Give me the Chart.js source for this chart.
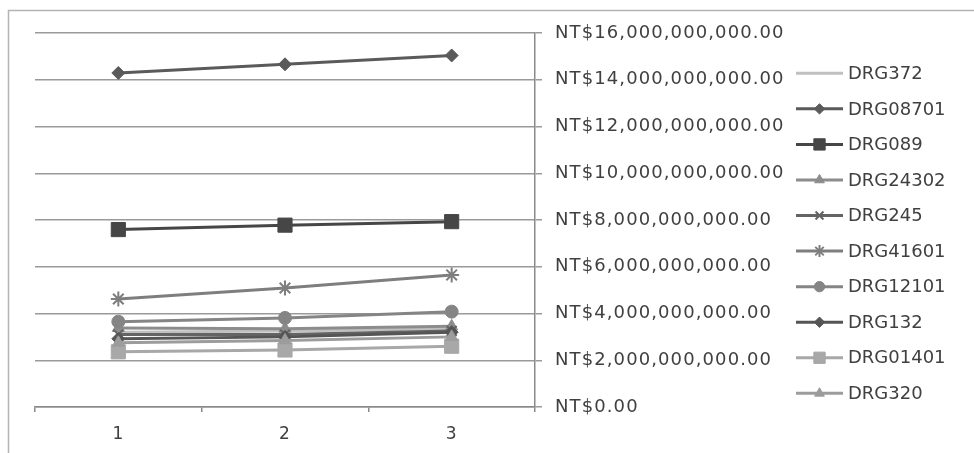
<!DOCTYPE html>
<html>
<head>
<meta charset="utf-8">
<script src="https://cdn.jsdelivr.net/npm/chart.js@4"></script>
<style>
  html, body { margin: 0; padding: 0; background: #fff; }
  #wrap { width: 974px; height: 453px; position: relative; }
</style>
</head>
<body>
<div id="wrap"><canvas id="drgChart"></canvas></div>
<script>
// Categories (x axis)
const periods = ['1', '2', '3'];

// Series names, in legend order
const seriesNames = ['DRG372', 'DRG08701', 'DRG089', 'DRG24302', 'DRG245',
                     'DRG41601', 'DRG12101', 'DRG132', 'DRG01401', 'DRG320'];

// Values (NT$)
const drg372   = [3.20e9, 3.25e9, 3.35e9];
const drg08701 = [14.29e9, 14.66e9, 15.04e9];
const drg089   = [7.59e9, 7.78e9, 7.93e9];
const drg24302 = [3.38e9, 3.35e9, 3.45e9];
const drg245   = [3.10e9, 3.10e9, 3.25e9];
const drg41601 = [4.62e9, 5.09e9, 5.65e9];
const drg12101 = [3.65e9, 3.81e9, 4.08e9];
const drg132   = [2.92e9, 3.00e9, 3.20e9];
const drg01401 = [2.36e9, 2.44e9, 2.60e9];
const drg320   = [2.75e9, 2.85e9, 3.00e9];

// Y axis ticks
const yMin = 0;
const yMax = 16e9;
const yStep = 2e9;

const seriesValues = [drg372, drg08701, drg089, drg24302, drg245,
                      drg41601, drg12101, drg132, drg01401, drg320];

// Grey-scale look of each series: colour, marker
const seriesStyle = [
    { color: '#c0c0c0', marker: false },
    { color: '#5a5a5a', marker: 'rectRot', radius: 6.5 },
    { color: '#464646', marker: 'rect', radius: 10 },
    { color: '#8c8c8c', marker: 'triangle', radius: 7 },
    { color: '#646464', marker: 'crossRot', radius: 7 },
    { color: '#7e7e7e', marker: 'star', radius: 7.5 },
    { color: '#858585', marker: 'circle', radius: 6.5 },
    { color: '#555555', marker: 'rectRot', radius: 6.5 },
    { color: '#a8a8a8', marker: 'rect', radius: 10 },
    { color: '#9c9c9c', marker: 'triangle', radius: 7 }
];

const FONT = 'DejaVu Sans';

const formatNT = (v) => 'NT$' + Number(v).toLocaleString('en-US', {
    minimumFractionDigits: 2, maximumFractionDigits: 2
});

const datasets = seriesNames.map((name, i) => {
    const s = seriesStyle[i];
    return {
        label: name,
        data: seriesValues[i],
        borderColor: s.color,
        backgroundColor: s.color,
        borderWidth: 3,
        pointStyle: s.marker || 'circle',
        pointRadius: s.marker ? s.radius : 0,
        pointBorderWidth: s.marker === 'crossRot' || s.marker === 'star' ? 2 : 1,
        pointBorderColor: s.color,
        pointBackgroundColor: s.color,
        tension: 0,
        fill: false,
        order: seriesNames.length - i   // later series on top, like Excel
    };
});

// Outer frame + wider letter spacing for axis text
const framePlugin = {
    id: 'frame',
    beforeDraw(chart) {
        const ctx = chart.ctx;
        ctx.save();
        ctx.strokeStyle = '#b4b4b4';
        ctx.lineWidth = 1.5;
        ctx.strokeRect(8.5, 10.5, 1000, 500);
        ctx.restore();
        ctx.letterSpacing = '1.1px';
    },
    beforeDatasetsDraw(chart) {
        chart.ctx.letterSpacing = '0px';
    }
};

// Legend with line + marker samples on the right
const sideLegend = {
    id: 'sideLegend',
    afterDraw(chart) {
        const ctx = chart.ctx;
        const x0 = 796, x1 = 843, top = 73.3, gap = 35.56;
        ctx.save();
        ctx.letterSpacing = '0px';
        chart.data.datasets.forEach((ds, i) => {
            const y = top + i * gap;
            ctx.strokeStyle = ds.borderColor;
            ctx.lineWidth = ds.borderWidth;
            ctx.beginPath();
            ctx.moveTo(x0, y);
            ctx.lineTo(x1, y);
            ctx.stroke();
            if (ds.pointRadius > 0) {
                ctx.fillStyle = ds.pointBackgroundColor;
                ctx.strokeStyle = ds.pointBorderColor;
                ctx.lineWidth = ds.pointBorderWidth;
                Chart.helpers.drawPoint(ctx, {
                    pointStyle: ds.pointStyle,
                    radius: ds.pointRadius * 0.8,
                    rotation: 0,
                    borderWidth: ds.pointBorderWidth
                }, (x0 + x1) / 2, y);
            }
            ctx.fillStyle = '#404040';
            ctx.font = '18px "' + FONT + '"';
            ctx.textAlign = 'left';
            ctx.textBaseline = 'middle';
            ctx.fillText(ds.label, 848, y + 1);
        });
        ctx.restore();
    }
};

new Chart(document.getElementById('drgChart'), {
    type: 'line',
    data: { labels: periods, datasets: datasets },
    plugins: [framePlugin, sideLegend],
    options: {
        responsive: true,
        maintainAspectRatio: false,
        animation: false,
        layout: { padding: { left: 35, top: 33, right: 0, bottom: 0 } },
        plugins: {
            legend: { display: false },
            tooltip: { enabled: false }
        },
        scales: {
            x: {
                type: 'category',
                offset: true,
                afterFit: (scale) => { scale.height = 46; },
                grid: {
                    offset: true,
                    drawOnChartArea: false,
                    drawTicks: true,
                    tickLength: 5,
                    color: '#8a8a8a',
                    lineWidth: 1.5
                },
                border: { display: true, color: '#8a8a8a', width: 1.5 },
                ticks: {
                    color: '#404040',
                    padding: 12,
                    font: { family: FONT, size: 17 }
                }
            },
            y: {
                position: 'right',
                min: yMin,
                max: yMax,
                afterFit: (scale) => { scale.width = 974 - 535; },
                grid: {
                    color: '#9a9a9a',
                    lineWidth: 1.5,
                    drawTicks: true,
                    tickLength: 7
                },
                border: { display: true, color: '#8a8a8a', width: 1.5 },
                ticks: {
                    stepSize: yStep,
                    padding: 13,
                    color: '#404040',
                    font: { family: FONT, size: 18 },
                    callback: (value) => formatNT(value)
                }
            }
        }
    }
});
</script>
</body>
</html>
